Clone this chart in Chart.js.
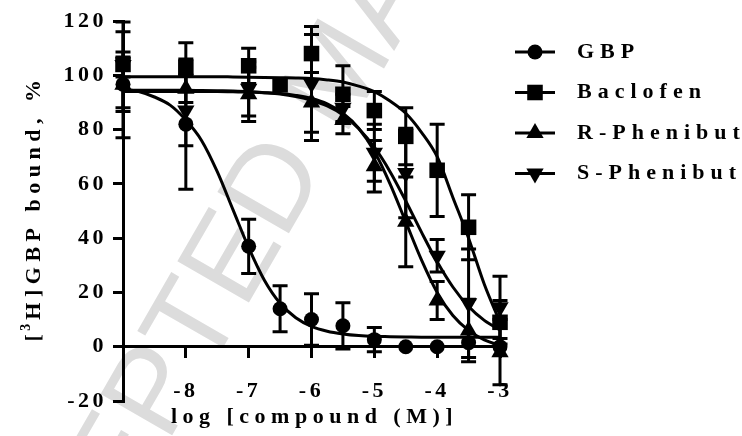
<!DOCTYPE html>
<html>
<head>
<meta charset="utf-8">
<script src="https://cdn.jsdelivr.net/npm/chart.js@4.4.1/dist/chart.umd.min.js"></script>
<style>
  html, body { margin: 0; padding: 0; background: #fff; }
  #wrap { width: 742px; height: 436px; position: relative; }
</style>
</head>
<body>
<div id="wrap"><canvas id="chart"></canvas></div>
<script>
// measured points (mean, error) per compound
const gbpX = [-9, -8, -7, -6.5, -6, -5.5, -5, -4.5, -4, -3.5, -3];
const gbpY = [96.7, 82, 37, 14, 10, 7.7, 2.6, 0, 0, 1.5, 0];
const gbpErr = [10, 24, 10, 8.5, 9.5, 8.5, 4.5, 0, 0, 0, 0];

const bacX = [-9, -8, -7, -6.5, -6, -5.5, -5, -4.5, -4, -3.5, -3];
const bacY = [104, 103, 103.5, 96.5, 108, 93, 87, 77.5, 65, 44, 9];
const bacErr = [4.6, 9, 6.5, 0, 7, 10.5, 7, 10.5, 17, 12, 8];

const rX = [-9, -8, -7, -6, -5.5, -5, -4.5, -4, -3.5, -3];
const rY = [96.5, 95, 93, 90, 83.5, 66.5, 46, 17, 6, -2];
const rErr = [19.5, 5, 10, 11, 5, 9.5, 16.5, 7, 11.5, 12];

const sX = [-9, -8, -7, -6, -5.5, -5, -4.5, -4, -3.5, -3];
const sY = [103.8, 87, 95, 97, 88, 71.5, 64, 33.5, 16, 14.5];
const sErr = [15.8, 13, 10, 21, 5, 10.5, 16.5, 6, 20, 11.5];

// fitted curves
const curveX = [-9, -8.75, -8.5, -8.25, -8, -7.75, -7.5, -7.25, -7, -6.75, -6.5, -6.25, -6,
                -5.75, -5.5, -5.25, -5, -4.75, -4.5, -4.25, -4, -3.75, -3.5, -3.25, -3];
const gbpFit = [95, 94, 92, 89, 83.5, 76, 64.5, 50.5, 36.5, 24.5, 16, 10.7, 7.5,
                5.7, 4.7, 4.1, 3.8, 3.7, 3.6, 3.5, 3.5, 3.5, 3.5, 3.5, 3.5];
const bacFit = [99.5, 99.5, 99.5, 99.5, 99.5, 99.5, 99.5, 99.4, 99.3, 99.2, 99.1, 99, 98.8,
                98.3, 97.5, 96, 94, 90.5, 86, 79, 70, 55, 40, 23, 9];
const rFit = [94, 94, 94, 94, 94, 94, 94, 93.9, 93.8, 93.6, 93.3, 92.6, 91.5,
              89.5, 86, 80.5, 72, 60, 46, 32, 20, 11.5, 6, 2.5, 0.5];
const sFit = [94.5, 94.5, 94.5, 94.5, 94.5, 94.4, 94.3, 94.2, 94, 93.6, 93.1, 92.2, 90.8,
              88.7, 85.4, 80.4, 73.5, 64.5, 53.7, 42.2, 31.3, 22, 14.8, 9.7, 6.2];

const seriesNames = ["GBP", "Baclofen", "R-Phenibut", "S-Phenibut"];
const xTicks = [-8, -7, -6, -5, -4, -3];
const yTicks = [-20, 0, 20, 40, 60, 80, 100, 120];
const xTitle = "log [compound (M)]";
// y title: "[" + superscript "3" + "H]GBP bound, %"
const yTitleParts = ["[", "3", "H]GBP bound, %"];
const watermark = "ACCEPTED MANUSCRIPT";

const serif = "'Liberation Serif', 'Times New Roman', serif";
const markers = [
    { pointStyle: "circle", radius: 7.5, rotation: 0 },
    { pointStyle: "rect", radius: 11, rotation: 0 },
    { pointStyle: "triangle", radius: 10, rotation: 0 },
    { pointStyle: "triangle", radius: 10, rotation: 180 }
];

function pts(xs, ys) {
    return xs.map((x, i) => ({ x: x, y: ys[i] }));
}

function fitSet(ys) {
    return {
        data: pts(curveX, ys),
        showLine: true,
        borderColor: "#000",
        borderWidth: 3,
        pointRadius: 0,
        cubicInterpolationMode: "monotone",
        fill: false
    };
}

function pointSet(name, xs, ys, errs, m) {
    return {
        label: name,
        data: pts(xs, ys),
        errors: errs,
        showLine: false,
        pointStyle: m.pointStyle,
        pointRadius: m.radius,
        pointRotation: m.rotation,
        backgroundColor: "#000",
        borderColor: "#000",
        pointBorderWidth: 0,
        clip: false
    };
}

const watermarkPlugin = {
    id: "watermark",
    beforeDraw(chart) {
        const ctx = chart.ctx;
        ctx.save();
        ctx.letterSpacing = "0px";
        ctx.translate(-28, 716);
        ctx.rotate(-Math.PI / 3);
        ctx.font = "120px 'Liberation Sans', Arial, sans-serif";
        ctx.fillStyle = "#dcdcdc";
        ctx.textBaseline = "middle";
        ctx.textAlign = "left";
        ctx.fillText(watermark, 0, 0);
        ctx.restore();
        // spaced-out text like the original typesetting
        ctx.letterSpacing = "3.5px";
    }
};

const errorBars = {
    id: "errorBars",
    afterDatasetsDraw(chart) {
        const { ctx, scales: { x, y } } = chart;
        const cap = 7.5;
        ctx.save();
        ctx.strokeStyle = "#000";
        ctx.lineWidth = 3;
        chart.data.datasets.forEach(ds => {
            if (!ds.errors) return;
            ds.data.forEach((p, i) => {
                const e = ds.errors[i];
                if (!e) return;
                const px = x.getPixelForValue(p.x);
                const top = y.getPixelForValue(p.y + e);
                const bot = y.getPixelForValue(p.y - e);
                ctx.beginPath();
                ctx.moveTo(px, top);
                ctx.lineTo(px, bot);
                ctx.moveTo(px - cap, top);
                ctx.lineTo(px + cap, top);
                ctx.moveTo(px - cap, bot);
                ctx.lineTo(px + cap, bot);
                ctx.stroke();
            });
        });
        ctx.restore();
    }
};

const extras = {
    id: "extras",
    afterDraw(chart) {
        const ctx = chart.ctx;
        const area = chart.chartArea;
        const bigFont = "bold 22px " + serif;
        const supFont = "bold 14px " + serif;
        ctx.save();
        ctx.fillStyle = "#000";
        ctx.font = bigFont;

        // x title
        ctx.letterSpacing = "5.5px";
        ctx.textAlign = "center";
        ctx.textBaseline = "middle";
        ctx.fillText(xTitle, (area.left + area.right) / 2 + 3, 417);

        // y title, with a raised 3
        ctx.save();
        ctx.translate(32, (area.top + area.bottom) / 2);
        ctx.rotate(-Math.PI / 2);
        ctx.textAlign = "left";
        ctx.textBaseline = "alphabetic";
        const w0 = ctx.measureText(yTitleParts[0]).width;
        const w2 = ctx.measureText(yTitleParts[2]).width;
        ctx.font = supFont;
        ctx.letterSpacing = "2px";
        const w1 = ctx.measureText(yTitleParts[1]).width;
        let tx = -(w0 + w1 + w2) / 2 + 3;
        const base = 8;
        ctx.font = bigFont;
        ctx.letterSpacing = "5.5px";
        ctx.fillText(yTitleParts[0], tx, base);
        tx += w0;
        ctx.font = supFont;
        ctx.letterSpacing = "2px";
        ctx.fillText(yTitleParts[1], tx - 2, base - 10);
        tx += w1;
        ctx.font = bigFont;
        ctx.letterSpacing = "5.5px";
        ctx.fillText(yTitleParts[2], tx, base);
        ctx.restore();

        // legend
        ctx.font = bigFont;
        ctx.letterSpacing = "6px";
        ctx.textAlign = "left";
        ctx.textBaseline = "middle";
        seriesNames.forEach((name, i) => {
            const ly = 52 + i * 40.5;
            ctx.strokeStyle = "#000";
            ctx.lineWidth = 3;
            ctx.beginPath();
            ctx.moveTo(515, ly);
            ctx.lineTo(555, ly);
            ctx.stroke();
            Chart.helpers.drawPoint(ctx, {
                pointStyle: markers[i].pointStyle,
                radius: markers[i].radius,
                rotation: markers[i].rotation,
                borderWidth: 0
            }, 535, ly);
            ctx.fillText(name, 577, ly);
        });
        ctx.restore();
    }
};

const tickFont = { family: serif, size: 22, weight: "bold" };

new Chart(document.getElementById("chart"), {
    type: "scatter",
    data: {
        datasets: [
            pointSet(seriesNames[0], gbpX, gbpY, gbpErr, markers[0]),
            pointSet(seriesNames[1], bacX, bacY, bacErr, markers[1]),
            pointSet(seriesNames[2], rX, rY, rErr, markers[2]),
            pointSet(seriesNames[3], sX, sY, sErr, markers[3]),
            fitSet(gbpFit),
            fitSet(bacFit),
            fitSet(rFit),
            fitSet(sFit)
        ]
    },
    options: {
        responsive: true,
        maintainAspectRatio: false,
        animation: false,
        events: [],
        layout: {
            padding: { left: 0, top: 21, right: 242, bottom: 35 }
        },
        scales: {
            x: {
                type: "linear",
                min: -9,
                max: -3,
                position: { y: 0 },
                afterBuildTicks: scale => {
                    scale.ticks = xTicks.map(v => ({ value: v }));
                },
                afterFit: scale => {
                    scale.height = 0;
                },
                grid: {
                    drawOnChartArea: false,
                    drawTicks: true,
                    tickLength: 10,
                    lineWidth: 3,
                    tickWidth: 3,
                    tickColor: "#000"
                },
                border: { color: "#000", width: 3 },
                ticks: {
                    color: "#000",
                    font: tickFont,
                    padding: 21,
                    maxRotation: 0,
                    autoSkip: false
                }
            },
            y: {
                type: "linear",
                min: -20,
                max: 120,
                afterBuildTicks: scale => {
                    scale.ticks = yTicks.map(v => ({ value: v }));
                },
                afterFit: scale => {
                    scale.width = 123;
                },
                grid: {
                    drawOnChartArea: false,
                    drawTicks: true,
                    tickLength: 10,
                    lineWidth: 3,
                    tickWidth: 3,
                    tickColor: "#000"
                },
                border: { color: "#000", width: 3 },
                ticks: {
                    color: "#000",
                    font: tickFont,
                    padding: 6
                }
            }
        },
        plugins: {
            legend: { display: false },
            tooltip: { enabled: false }
        }
    },
    plugins: [watermarkPlugin, errorBars, extras]
});
</script>
</body>
</html>
